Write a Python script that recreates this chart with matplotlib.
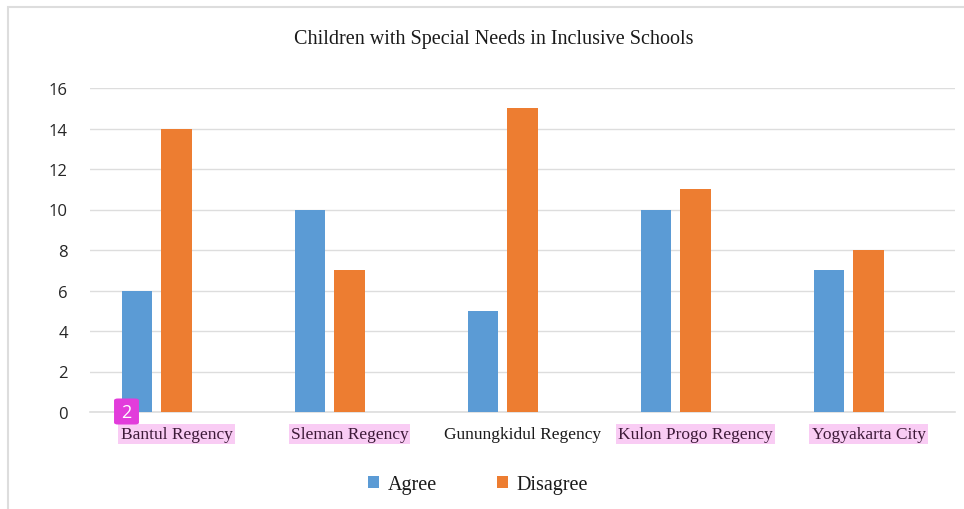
import numpy as np
import matplotlib.pyplot as plt
from matplotlib.patches import Rectangle, FancyBboxPatch

# data
regions = ['Bantul Regency', 'Sleman Regency', 'Gunungkidul Regency',
           'Kulon Progo Regency', 'Yogyakarta City']
agree = [6, 10, 5, 10, 7]
disagree = [14, 7, 15, 11, 8]
highlighted = [True, True, False, True, True]
y_ticks = [0, 2, 4, 6, 8, 10, 12, 14, 16]

blue = '#5B9BD5'
orange = '#ED7D31'
grid_c = '#DDDDDD'
serif = ['Liberation Serif', 'DejaVu Serif']

fig = plt.figure(figsize=(9.64, 5.10), dpi=100)
ax = fig.add_axes([90 / 964, 1 - 413 / 510, 865 / 964, (413 - 89) / 510])

# outer frame of the chart
fig.patches.append(Rectangle((8 / 964, -0.1), 1.2, 1 - 8 / 510 + 0.1,
                             transform=fig.transFigure, fill=False,
                             edgecolor=grid_c, linewidth=1.5))

x = np.arange(len(regions))
w = 0.174
ax.bar(x - 0.226, agree, w, color=blue, label='Agree', zorder=3)
ax.bar(x + 0.0, disagree, w, color=orange, label='Disagree', zorder=3)

ax.set_xlim(-0.5, len(regions) - 0.5)
ax.set_ylim(0, 16)
ax.set_yticks(y_ticks)
ax.set_yticklabels([str(v) for v in y_ticks], fontsize=12,
                   family=['Open Sans', 'DejaVu Sans'], color='#262626')
ax.yaxis.grid(True, color=grid_c, linewidth=1.0, zorder=0)
ax.tick_params(axis='y', length=0, pad=16)
ax.tick_params(axis='x', length=0)
ax.set_xticks(x)
ax.set_xticklabels([])
for s in ['top', 'right', 'left']:
    ax.spines[s].set_visible(False)
ax.spines['bottom'].set_color(grid_c)
ax.spines['bottom'].set_linewidth(1.2)

# category labels, some with pink highlight
for i, name in enumerate(regions):
    if highlighted[i]:
        ax.text(i, -0.7, name, ha='center', va='top', fontsize=12.5,
                family=serif, color='#3d1a38',
                bbox=dict(boxstyle='square,pad=0.12', facecolor='#F9CCF4',
                          edgecolor='none'))
    else:
        ax.text(i, -0.7, name, ha='center', va='top', fontsize=12.5,
                family=serif, color='#1a1a1a')

# magenta note marker
fig.patches.append(FancyBboxPatch((115 / 964, 1 - 425 / 510), 23 / 964, 25 / 510,
                                  boxstyle='round,pad=0.001,rounding_size=0.004',
                                  transform=fig.transFigure,
                                  facecolor='#E23CDB', edgecolor='none', zorder=5))
fig.text(126.5 / 964, 1 - 413 / 510, '2', ha='center', va='center', color='white',
         fontsize=13, family=['Open Sans', 'DejaVu Sans'], zorder=6)

fig.text(494 / 964, 1 - 40 / 510, 'Children with Special Needs in Inclusive Schools',
         ha='center', va='center', fontsize=14.5, family=serif, color='#1a1a1a')

leg = fig.legend(loc='center', bbox_to_anchor=(478 / 964, 1 - 486 / 510), ncol=2,
                 frameon=False, handlelength=0.55, handleheight=0.55,
                 columnspacing=3.0, handletextpad=0.4,
                 prop={'family': serif, 'size': 14.5})
for t in leg.get_texts():
    t.set_color('#1a1a1a')

fig.savefig('out.png', dpi=100)
